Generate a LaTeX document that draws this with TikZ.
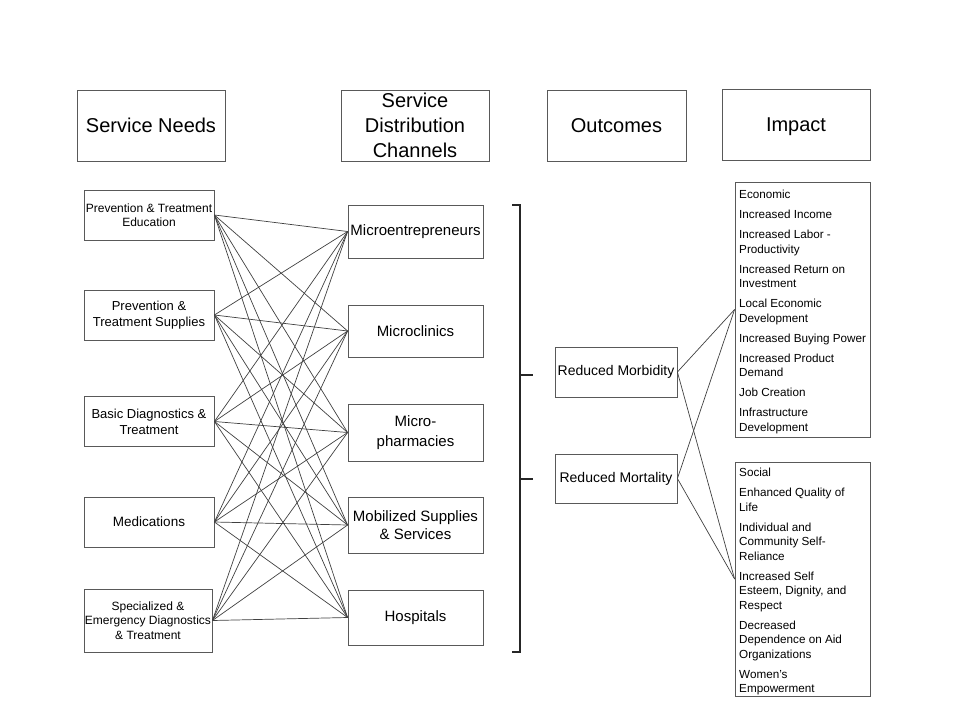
\documentclass[tikz,border=0pt]{standalone}
\usepackage{fontspec}
\setmainfont{Liberation Sans}
\usepackage{tikz}
\usetikzlibrary{positioning,calc}

\begin{document}
\begin{tikzpicture}
	[x=1pt,y=-1pt,
	hd/.style={draw=black!65,line width=0.8pt,minimum width=148pt,minimum height=71pt,inner sep=0pt,align=center,font=\fontsize{20}{25}\selectfont},
	nd/.style={draw=black!65,line width=0.8pt,minimum width=130pt,minimum height=50pt,inner sep=1pt,align=center,font=\fontsize{12}{14.5}\selectfont},
	ch/.style={draw=black!65,line width=0.8pt,minimum width=135pt,inner sep=1pt,align=center,font=\fontsize{15}{20}\selectfont},
	oc/.style={draw=black!65,line width=0.8pt,minimum width=122pt,minimum height=50pt,inner sep=1pt,align=center,font=\fontsize{14}{16}\selectfont},
	ib/.style={draw=black!65,line width=0.8pt,minimum width=135pt,inner sep=0pt},
	it/.style={anchor=north west,inner sep=0pt,align=left,font=\fontsize{11.7}{14.5}\selectfont},
	ln/.style={draw=black!75,line width=0.7pt}]
	\useasboundingbox (0,0) rectangle (960,720);
	%HEADERS
	\node[hd] (hneeds) at (151,125.5) {Service Needs};
	\node[hd] (hchan) at (415,125.5) {Service\\Distribution\\ Channels};
	\node[hd,minimum width=139pt] (hout) at (616.5,125.5) {Outcomes};
	\node[hd,text depth=0pt] (himp) at (796,124.5) {Impact};
	%SERVICE NEEDS
	\node[nd] (edu) at (149,215) {Prevention \& Treatment\\Education};
	\node[nd,font=\fontsize{13}{16}\selectfont] (sup) at (149,315) {Prevention \&\\Treatment Supplies};
	\node[nd,font=\fontsize{13}{16}\selectfont] (diag) at (149,421.5) {Basic Diagnostics \&\\Treatment};
	\node[nd,font=\fontsize{13.5}{16}\selectfont] (med) at (149,522) {Medications};
	\node[nd,minimum width=128pt,minimum height=63pt] (spec) at (148,620.5) {Specialized \&\\Emergency Diagnostics\\\& Treatment};
	%CHANNELS
	\node[ch,minimum height=53pt] (ment) at (415.5,231.5) {Microentrepreneurs};
	\node[ch,minimum height=52pt] (clin) at (415.5,331) {Microclinics};
	\node[ch,minimum height=57pt] (pharm) at (415.5,432.5) {Micro-\\pharmacies};
	\node[ch,minimum height=56pt,font=\fontsize{15}{18}\selectfont] (mob) at (415.5,525) {Mobilized Supplies\\ \& Services};
	\node[ch,minimum height=55pt] (hosp) at (415.5,617.5) {Hospitals};
	\foreach \a in {edu,sup,diag,med,spec}
	\foreach \b in {ment,clin,pharm,mob,hosp}
	\path[ln] (\a.east) -- (\b.west);
	%BRACKET
	\coordinate (brtop) at (520,205);
	\coordinate (brbot) at (520,652);
	\draw[line width=1.5pt,black!85] ($(brtop)+(-8,0)$) -- (brtop) -- (brbot) -- ($(brbot)+(-8,0)$);
	\draw[line width=1.5pt,black!85] (520,375) -- (533,375);
	\draw[line width=1.5pt,black!85] (520,479) -- (533,479);
	%OUTCOMES
	\node[oc] (morb) at (616,372) {Reduced Morbidity};
	\node[oc,minimum height=49pt] (mort) at (616,478.5) {Reduced Mortality};
	%IMPACT
	\node[ib,minimum height=255pt] (econ) at (802.5,309.5) {};
	\node[it] (econtxt) at (739,190) {Economic\\[5.5pt]
		Increased Income\\[5.5pt]
		Increased Labor -\\Productivity\\[5.5pt]
		Increased Return on\\Investment\\[5.5pt]
		Local Economic\\Development\\[5.5pt]
		Increased Buying Power\\[5.5pt]
		Increased Product\\Demand\\[5.5pt]
		Job Creation\\[5.5pt]
		Infrastructure\\Development};
	\node[ib,minimum height=234pt] (soc) at (802.5,579) {};
	\node[it] (soctxt) at (739,468) {Social\\[5.5pt]
		Enhanced Quality of\\Life\\[5.5pt]
		Individual and\\Community Self-\\Reliance\\[5.5pt]
		Increased Self\\Esteem, Dignity, and\\Respect\\[5.5pt]
		Decreased\\Dependence on Aid\\Organizations\\[5.5pt]
		Women's\\Empowerment};
	\foreach \a in {morb,mort}
	\foreach \b in {econ,soc}
	\path[ln] (\a.east) -- (\b.west);
\end{tikzpicture}
\end{document}
